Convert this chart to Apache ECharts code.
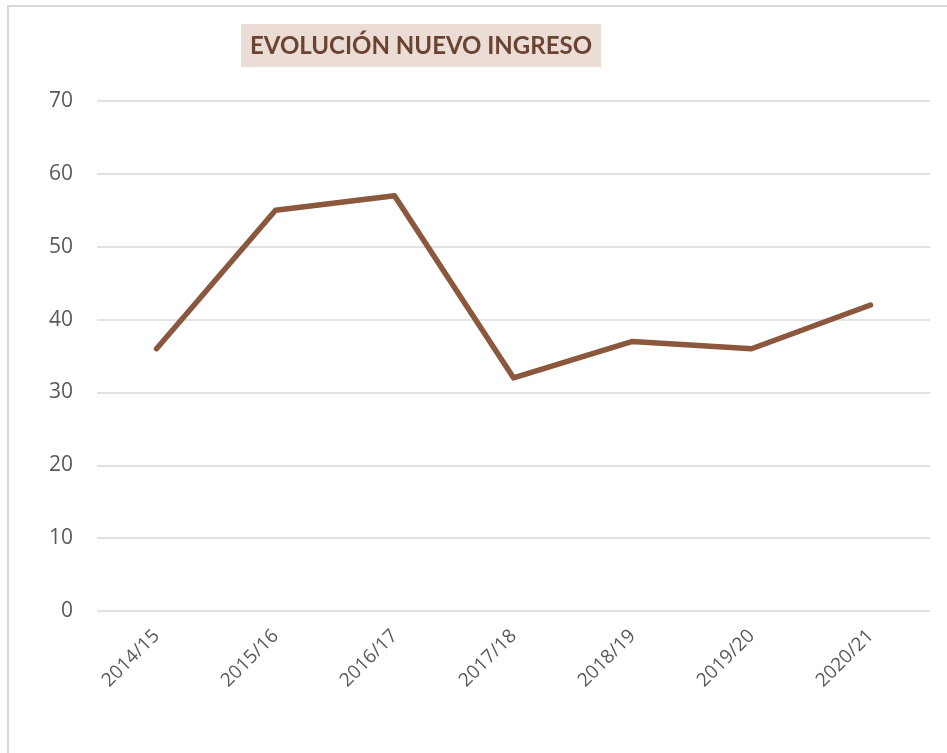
<!DOCTYPE html>
<html>
<head>
<meta charset="utf-8">
<script src="https://cdn.jsdelivr.net/npm/echarts@6/dist/echarts.min.js"></script>
<style>
  html, body { margin: 0; padding: 0; background: #fff; }
  #main { width: 947px; height: 753px; }
</style>
</head>
<body>
<div id="main"></div>
<script>
var cursos = ['2014/15', '2015/16', '2016/17', '2017/18', '2018/19', '2019/20', '2020/21'];
var nuevoIngreso = [36, 55, 57, 32, 37, 36, 42];
var titulo = 'EVOLUCIÓN NUEVO INGRESO';

var myChart = echarts.init(document.getElementById('main'));
var option = {
    backgroundColor: '#fff',
    animation: false,
    title: {
        text: titulo,
        left: 241,
        top: 24,
        padding: [10, 9, 9, 9],
        backgroundColor: '#ebddd5',
        textStyle: {
            color: '#6b4331',
            fontFamily: 'Lato',
            fontWeight: 'bold',
            fontSize: 24,
            lineHeight: 24
        }
    },
    // marco exterior
    graphic: [{
        type: 'rect',
        shape: { x: 8, y: 6, width: 1000, height: 800 },
        style: { fill: 'none', stroke: '#d9d9d9', lineWidth: 2 },
        silent: true
    }],
    grid: {
        left: 97,
        right: 17,
        top: 101,
        bottom: 142
    },
    xAxis: {
        type: 'category',
        data: cursos,
        boundaryGap: true,
        axisLine: { show: false },
        axisTick: { show: false },
        axisLabel: {
            rotate: 45,
            color: '#595959',
            fontFamily: 'Open Sans',
            fontSize: 19,
            margin: 22
        }
    },
    yAxis: {
        type: 'value',
        min: 0,
        max: 70,
        interval: 10,
        axisLine: { show: false },
        axisTick: { show: false },
        axisLabel: {
            color: '#595959',
            fontFamily: 'Open Sans',
            fontSize: 21,
            margin: 24
        },
        splitLine: { lineStyle: { color: '#d9d9d9', width: 1.5 } }
    },
    series: [{
        type: 'line',
        data: nuevoIngreso,
        symbol: 'none',
        lineStyle: { color: '#8b573d', width: 5.5, cap: 'round', join: 'round' }
    }]
};
myChart.setOption(option);
</script>
</body>
</html>
